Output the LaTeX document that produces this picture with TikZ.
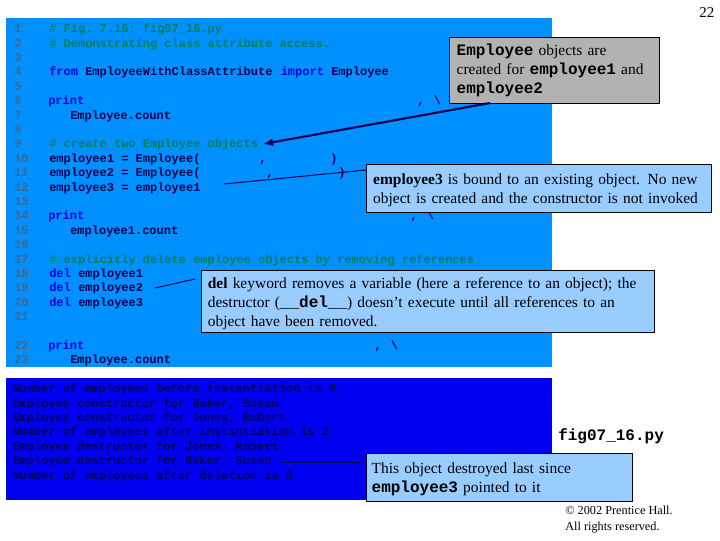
\documentclass[tikz,border=0pt]{standalone}
\usepackage{fontspec}
\setmainfont{Liberation Serif}
\setmonofont{Liberation Mono}
\usetikzlibrary{arrows.meta}
\definecolor{panelcode}{HTML}{0090FF}
\definecolor{paneloutput}{HTML}{0000F0}
\definecolor{calloutblue}{HTML}{99CCFF}
\definecolor{calloutgray}{HTML}{B2B2B2}
\definecolor{lnum}{HTML}{3A6A90}
\definecolor{cmt}{HTML}{007F50}
\definecolor{kw}{HTML}{0000E0}
\definecolor{ink}{HTML}{000050}
\definecolor{outink}{HTML}{000058}
\newcommand{\cb}[1]{{\fontsize{12pt}{12pt}\ttfamily\bfseries #1}}
\newcommand{\tick}{, \hspace{1.6pt}\textbackslash}
\tikzset{
  panel/.style={draw=none,inner sep=0pt,outer sep=0pt,anchor=north west},
  code/.style={inner sep=0pt,anchor=base west,text=ink,font=\fontsize{9pt}{9pt}\ttfamily\bfseries},
  numline/.style={code,text=lnum},
  comment/.style={code,text=cmt},
  keyword/.style={code,text=kw},
  outline/.style={code,text=outink},
  callout/.style={draw=black,line width=0.75pt,inner sep=0pt,outer sep=0pt,anchor=north west,align=left,
    font=\fontsize{11.6pt}{14.2pt}\selectfont},
  conn/.style={draw=ink,line width=0.75pt},
  leader/.style={draw=ink,line width=1.6pt,-{Latex[length=7.5pt,width=6pt]}},
  plain/.style={inner sep=0pt,anchor=base west},
}
\begin{document}
\begin{tikzpicture}[x=0.75pt,y=-0.75pt]
\useasboundingbox (0,0) rectangle (720,540);
\node[panel,fill=panelcode,minimum width=409.5pt,minimum height=261.75pt] (codepanel) at (6,18) {};
\node[panel,fill=paneloutput,minimum width=409.5pt,minimum height=91.5pt] (outpanel) at (6,378) {};
% line numbers
\node[numline] (n1) at (14,32.5) {1};
\node[numline] (n2) at (14,47) {2};
\node[numline] (n3) at (14,61) {3};
\node[numline] (n4) at (14,75) {4};
\node[numline] (n5) at (14,90) {5};
\node[numline] (n6) at (14,104) {6};
\node[numline] (n7) at (14,119) {7};
\node[numline] (n8) at (14,133) {8};
\node[numline] (n9) at (14,147) {9};
\node[numline] (n10) at (14,162) {10};
\node[numline] (n11) at (14,176) {11};
\node[numline] (n12) at (14,191) {12};
\node[numline] (n13) at (14,205) {13};
\node[numline] (n14) at (14,219) {14};
\node[numline] (n15) at (14,234) {15};
\node[numline] (n16) at (14,248) {16};
\node[numline] (n17) at (14,263) {17};
\node[numline] (n18) at (14,277) {18};
\node[numline] (n19) at (14,291) {19};
\node[numline] (n20) at (14,306) {20};
\node[numline] (n21) at (14,320) {21};
\node[numline] (n22) at (14,349) {22};
\node[numline] (n23) at (14,363) {23};
% code
\node[comment] (c1) at (49,32.5) {\# Fig. 7.16: fig07\_16.py};
\node[comment] (c2) at (49,47) {\# Demonstrating class attribute access.};
\node[keyword] (c4a) at (49,75) {from};
\node[code] (c4b) at (85,75) {EmployeeWithClassAttribute};
\node[keyword] (c4c) at (280.5,75) {import};
\node[code] (c4d) at (331,75) {Employee};
\node[keyword] (c6) at (48,104) {print};
\node[code] (c6b) at (417,104) {\tick};
\node[code] (c7) at (70,119) {Employee.count};
\node[comment] (c9) at (49,147) {\# create two Employee objects};
\node[code] (c10) at (49,162) {employee1 = Employee(};
\node[code] (c10b) at (259,162) {,};
\node[code] (c10c) at (330,162) {)};
\node[code] (c11) at (49,176) {employee2 = Employee(};
\node[code] (c11b) at (266,176) {,};
\node[code] (c11c) at (338,176) {)};
\node[code] (c12) at (49,191) {employee3 = employee1};
\node[keyword] (c14) at (48,219) {print};
\node[code] (c14b) at (410,219) {\tick};
\node[code] (c15) at (70,234) {employee1.count};
\node[comment] (c17) at (49,263) {\# explicitly delete employee objects by removing references};
\node[keyword] (c18a) at (49,277) {del};
\node[code] (c18b) at (78,277) {employee1};
\node[keyword] (c19a) at (49,291) {del};
\node[code] (c19b) at (78,291) {employee2};
\node[keyword] (c20a) at (49,306) {del};
\node[code] (c20b) at (78,306) {employee3};
\node[keyword] (c22) at (48,349) {print};
\node[code] (c22b) at (374,349) {\tick};
\node[code] (c23) at (70,363) {Employee.count};
% output
\node[outline] (o1) at (12,392) {Number of employees before instantiation is 0};
\node[outline] (o2) at (12,407) {Employee constructor for Baker, Susan};
\node[outline] (o3) at (12,421) {Employee constructor for Jones, Robert};
\node[outline] (o4) at (12,435) {Number of employees after instantiation is 2};
\node[outline] (o5) at (12,450) {Employee destructor for Jones, Robert};
\node[outline] (o6) at (12,464) {Employee destructor for Baker, Susan};
\node[outline] (o7) at (12,479) {Number of employees after deletion is 0};
% callouts
\node[callout,fill=calloutgray,minimum width=157.5pt,minimum height=49.5pt,text width=152pt] (ca) at (449,37)
  {\hspace*{3pt}\cb{Employee} objects are\\\hspace*{3pt}created for \cb{employee1} and\\\hspace*{3pt}\cb{employee2}};
\node[callout,fill=calloutblue,minimum width=258.75pt,minimum height=36pt,text width=255pt] (cb) at (366,164)
  {\rule{0pt}{10.9pt}\hspace*{3.5pt}\textbf{employee3} is bound to an existing object. No new\\\hspace*{3.5pt}object is created and the constructor is not invoked};
\node[callout,fill=calloutblue,minimum width=339.75pt,minimum height=46.5pt,text width=335pt] (cc) at (201,270)
  {\rule{0pt}{12.4pt}\hspace*{2.75pt}\textbf{del} keyword removes a variable (here a reference to an object); the\\\hspace*{2.75pt}destructor (\cb{\_\_del\_\_}) doesn’t execute until all references to an\\\hspace*{2.75pt}object have been removed.};
\node[callout,fill=calloutblue,minimum width=199.5pt,minimum height=36pt,text width=195pt] (cd) at (366,453)
  {\rule{0pt}{10.9pt}\hspace*{2pt}This object destroyed last since\\\hspace*{2pt}\cb{employee3} pointed to it};
% free ends
\coordinate (a1tip) at (263,144);
\coordinate (a1from) at (490,103);
\coordinate (b1from) at (224,184);
\coordinate (b1to) at (cb.west |- 0,170);
\coordinate (c1from) at (155,288);
\coordinate (c1to) at (195,279);
\coordinate (d1from) at (281,462);
\coordinate (d1to) at (361,462);
\draw[leader] (a1from) -- (a1tip);
\draw[conn] (b1from) -- (b1to);
\draw[conn] (c1from) -- (c1to);
\draw[conn] (d1from) -- (d1to);
% labels
\node[plain,font=\fontsize{12pt}{12pt}\ttfamily\bfseries] (fname) at (558,440) {fig07\_16.py};
\node[plain,font=\fontsize{11.25pt}{12pt}\selectfont] (page) at (699,17) {22};
\node[plain,font=\fontsize{9.2pt}{9pt}\selectfont] (copy1) at (565,514) {© 2002 Prentice Hall.};
\node[plain,font=\fontsize{9.2pt}{9pt}\selectfont] (copy2) at (565,530) {All rights reserved.};
\end{tikzpicture}
\end{document}
